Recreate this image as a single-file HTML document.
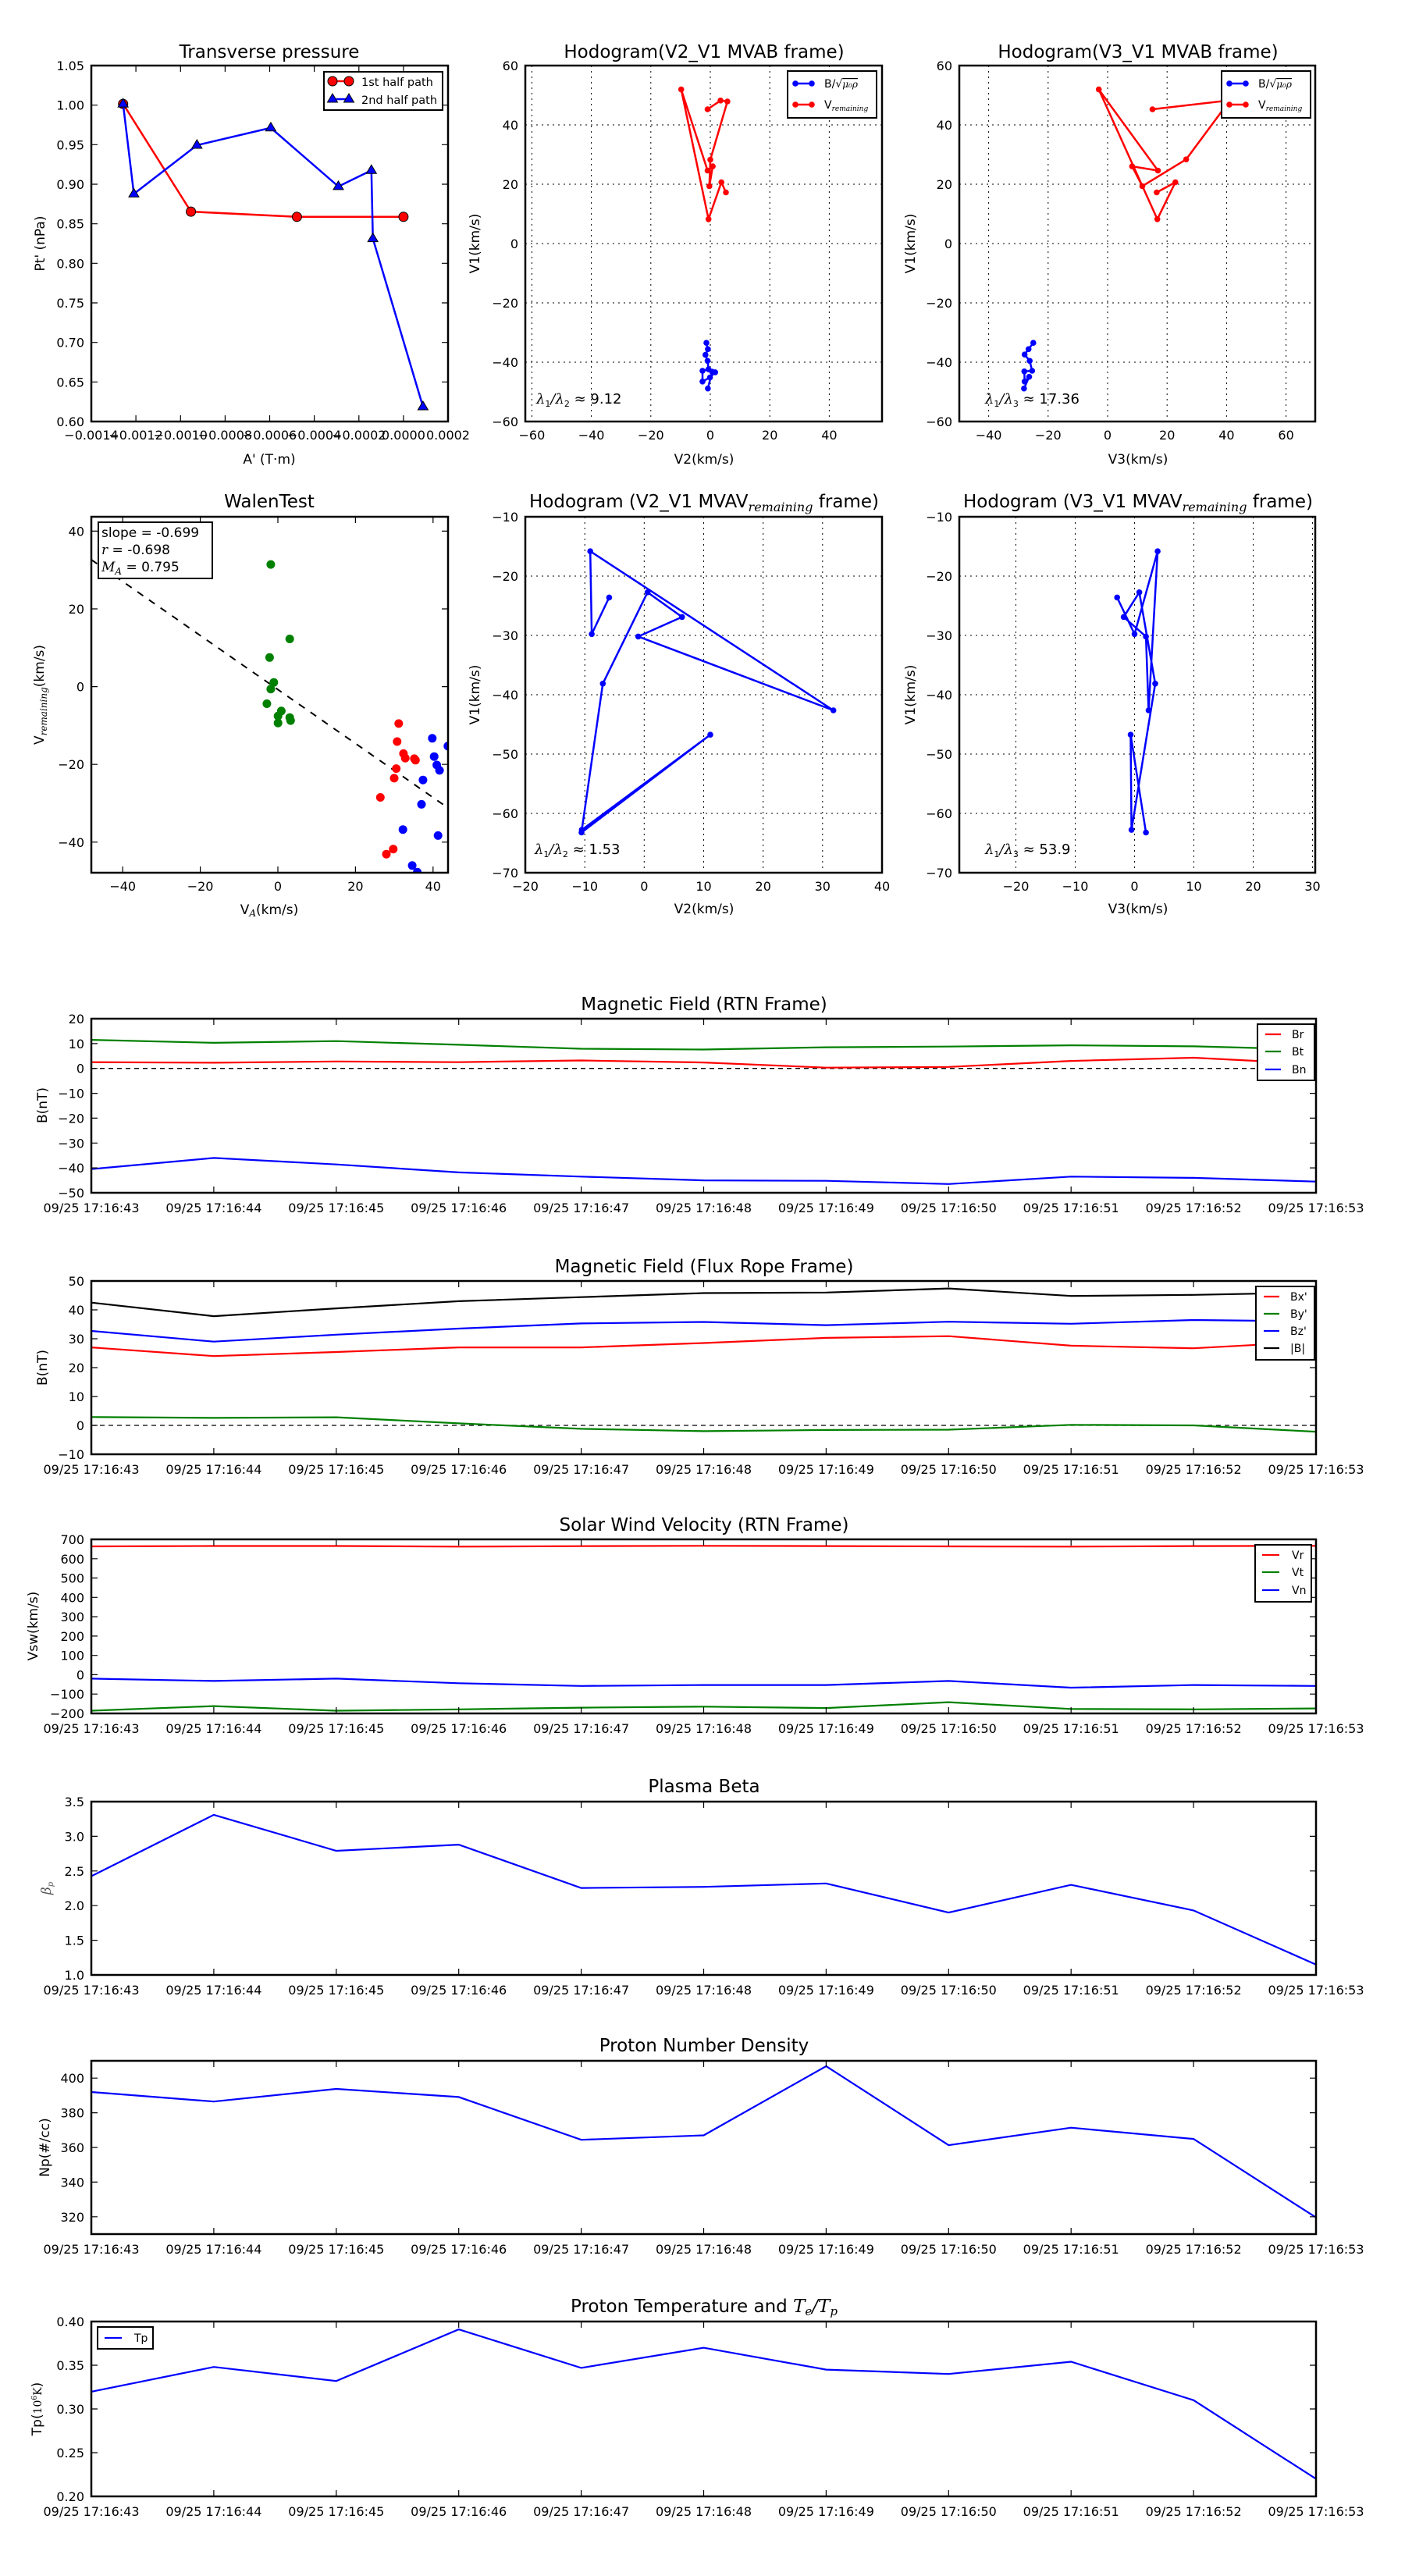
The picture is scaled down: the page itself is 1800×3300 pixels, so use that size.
<!DOCTYPE html>
<html><head><meta charset="utf-8"><style>
html,body{margin:0;padding:0;background:#fff;}
svg{display:block;font-family:"DejaVu Sans","Liberation Sans",sans-serif;}
.t{font-size:23px;text-anchor:middle;}
.tk{font-size:16px;}
.xl{font-size:16px;text-anchor:middle;}
.yl{font-size:16px;text-anchor:end;}
.al{font-size:17px;text-anchor:middle;}
.m{font-family:"DejaVu Serif","Liberation Serif",serif;font-style:italic;}
.fr{fill:none;stroke:#000;stroke-width:2.5;}
.tick{stroke:#000;stroke-width:1.2;fill:none;}
.grid{stroke:#000;stroke-width:1;stroke-dasharray:2,5;fill:none;}
</style></head><body>
<svg width="1800" height="3300" viewBox="0 0 1800 3300" xmlns="http://www.w3.org/2000/svg">
<defs>
<clipPath id="c1"><rect x="117" y="84" width="457" height="456"/></clipPath>
<clipPath id="c2"><rect x="673" y="84" width="457" height="456"/></clipPath>
<clipPath id="c3"><rect x="1229" y="84" width="456" height="456"/></clipPath>
<clipPath id="c4"><rect x="117" y="662" width="457" height="456"/></clipPath>
</defs>

<!-- ============ P1 Transverse pressure ============ -->
<text class="t" x="345" y="74">Transverse pressure</text>
<g clip-path="url(#c1)">
<polyline points="157.7,133.1 244.6,271.1 380.4,277.8 516.9,277.8" fill="none" stroke="#f00" stroke-width="2.5"/>
<g fill="#f00" stroke="#000" stroke-width="1">
<circle cx="157.7" cy="133.1" r="6"/><circle cx="244.6" cy="271.1" r="6"/><circle cx="380.4" cy="277.8" r="6"/><circle cx="516.9" cy="277.8" r="6"/>
</g>
<polyline points="157.7,133.1 171.5,248.4 252.3,186 346.9,163.8 433.5,238.9 475.8,218.2 477.7,305.6 541.9,521" fill="none" stroke="#00f" stroke-width="2.5"/>
<g fill="#00f" stroke="#000" stroke-width="1">
<path d="M157.7,126.1 l6.5,11 h-13z"/><path d="M171.5,241.4 l6.5,11 h-13z"/><path d="M252.3,179 l6.5,11 h-13z"/><path d="M346.9,156.8 l6.5,11 h-13z"/><path d="M433.5,231.9 l6.5,11 h-13z"/><path d="M475.8,211.2 l6.5,11 h-13z"/><path d="M477.7,298.6 l6.5,11 h-13z"/><path d="M541.9,514 l6.5,11 h-13z"/>
</g>
</g>
<rect class="fr" x="117" y="84" width="457" height="456"/>
<path class="tick" d="M174.1,540v-8M231.3,540v-8M288.4,540v-8M345.5,540v-8M402.6,540v-8M459.8,540v-8M516.9,540v-8M174.1,84v8M231.3,84v8M288.4,84v8M345.5,84v8M402.6,84v8M459.8,84v8M516.9,84v8M117,489.3h8M117,438.7h8M117,388h8M117,337.3h8M117,286.7h8M117,236h8M117,185.3h8M117,134.7h8M574,489.3h-8M574,438.7h-8M574,388h-8M574,337.3h-8M574,286.7h-8M574,236h-8M574,185.3h-8M574,134.7h-8"/>
<g class="xl">
<text x="117" y="563">−0.0014</text><text x="174.1" y="563">−0.0012</text><text x="231.3" y="563">−0.0010</text><text x="288.4" y="563">−0.0008</text><text x="345.5" y="563">−0.0006</text><text x="402.6" y="563">−0.0004</text><text x="459.8" y="563">−0.0002</text><text x="516.9" y="563">0.0000</text><text x="574" y="563">0.0002</text>
</g>
<g class="yl">
<text x="108" y="546">0.60</text><text x="108" y="495.3">0.65</text><text x="108" y="444.7">0.70</text><text x="108" y="394">0.75</text><text x="108" y="343.3">0.80</text><text x="108" y="292.7">0.85</text><text x="108" y="242">0.90</text><text x="108" y="191.3">0.95</text><text x="108" y="140.7">1.00</text><text x="108" y="90">1.05</text>
</g>
<text class="al" x="345" y="594">A' (T·m)</text>
<text class="al" transform="translate(57,312) rotate(-90)">Pt' (nPa)</text>
<rect x="415" y="92" width="152" height="49" fill="#fff" stroke="#000" stroke-width="2"/>
<line x1="426" y1="104" x2="447" y2="104" stroke="#f00" stroke-width="2.5"/>
<circle cx="426" cy="104" r="6" fill="#f00" stroke="#000"/><circle cx="447" cy="104" r="6" fill="#f00" stroke="#000"/>
<line x1="426" y1="127" x2="447" y2="127" stroke="#00f" stroke-width="2.5"/>
<path d="M426,120 l6.5,11 h-13z M447,120 l6.5,11 h-13z" fill="#00f" stroke="#000"/>
<text x="463" y="110" font-size="14.5">1st half path</text>
<text x="463" y="133" font-size="14.5">2nd half path</text>

<!-- ============ P2 Hodogram V2_V1 MVAB ============ -->
<text class="t" x="902" y="74">Hodogram(V2_V1 MVAB frame)</text>
<path class="grid" d="M681.4,84V540M757.6,84V540M833.8,84V540M910,84V540M986.2,84V540M1062.4,84V540M673,464H1130M673,388H1130M673,312H1130M673,236H1130M673,160H1130"/>
<g clip-path="url(#c2)">
<polyline points="906.5,140 923.1,128.8 931.9,130 910,204.6 908.8,238.5 913.1,213.1 906.5,218.5 872.7,114.6 907.7,280.8 924.2,233.5 930,246.5" fill="none" stroke="#f00" stroke-width="2.5"/>
<g fill="#f00"><circle cx="906.5" cy="140" r="3.8"/><circle cx="923.1" cy="128.8" r="3.8"/><circle cx="931.9" cy="130" r="3.8"/><circle cx="910" cy="204.6" r="3.8"/><circle cx="908.8" cy="238.5" r="3.8"/><circle cx="913.1" cy="213.1" r="3.8"/><circle cx="906.5" cy="218.5" r="3.8"/><circle cx="872.7" cy="114.6" r="3.8"/><circle cx="907.7" cy="280.8" r="3.8"/><circle cx="924.2" cy="233.5" r="3.8"/><circle cx="930" cy="246.5" r="3.8"/></g>
<polyline points="905,439.2 906.9,447.3 903.8,454.6 906.5,462.3 907.7,473.1 900,475 900,488.8 909.6,483.5 916.2,476.9 912.3,476.2 906.9,497.7" fill="none" stroke="#00f" stroke-width="2.5"/>
<g fill="#00f"><circle cx="905" cy="439.2" r="3.8"/><circle cx="906.9" cy="447.3" r="3.8"/><circle cx="903.8" cy="454.6" r="3.8"/><circle cx="906.5" cy="462.3" r="3.8"/><circle cx="907.7" cy="473.1" r="3.8"/><circle cx="900" cy="475" r="3.8"/><circle cx="900" cy="488.8" r="3.8"/><circle cx="909.6" cy="483.5" r="3.8"/><circle cx="916.2" cy="476.9" r="3.8"/><circle cx="912.3" cy="476.2" r="3.8"/><circle cx="906.9" cy="497.7" r="3.8"/></g>
</g>
<rect class="fr" x="673" y="84" width="457" height="456"/>
<g class="xl"><text x="681.4" y="563">−60</text><text x="757.6" y="563">−40</text><text x="833.8" y="563">−20</text><text x="910" y="563">0</text><text x="986.2" y="563">20</text><text x="1062.4" y="563">40</text></g>
<g class="yl"><text x="664" y="546">−60</text><text x="664" y="470">−40</text><text x="664" y="394">−20</text><text x="664" y="318">0</text><text x="664" y="242">20</text><text x="664" y="166">40</text><text x="664" y="90">60</text></g>
<text class="al" x="902" y="594">V2(km/s)</text>
<text class="al" transform="translate(614,312) rotate(-90)">V1(km/s)</text>
<text x="687" y="517" font-size="18"><tspan class="m">λ</tspan><tspan font-size="11" dy="4">1</tspan><tspan class="m" dy="-4">/λ</tspan><tspan font-size="11" dy="4">2</tspan><tspan dy="-4"> ≈ 9.12</tspan></text>
<rect x="1009" y="91" width="114" height="60" fill="#fff" stroke="#000" stroke-width="2"/>
<line x1="1019" y1="107" x2="1040" y2="107" stroke="#00f" stroke-width="2.5"/><circle cx="1019" cy="107" r="3.8" fill="#00f"/><circle cx="1040" cy="107" r="3.8" fill="#00f"/>
<line x1="1019" y1="134" x2="1040" y2="134" stroke="#f00" stroke-width="2.5"/><circle cx="1019" cy="134" r="3.8" fill="#f00"/><circle cx="1040" cy="134" r="3.8" fill="#f00"/>
<text x="1056" y="112" font-size="14">B/√<tspan class="m" font-size="12" text-decoration="overline">μ₀ρ</tspan></text>
<text x="1056" y="139" font-size="14">V<tspan class="m" font-size="9" dy="3">remaining</tspan></text>

<!-- ============ P3 Hodogram V3_V1 MVAB ============ -->
<text class="t" x="1458" y="74">Hodogram(V3_V1 MVAB frame)</text>
<path class="grid" d="M1266.6,84V540M1342.8,84V540M1419,84V540M1495.2,84V540M1571.4,84V540M1647.6,84V540M1229,464H1685M1229,388H1685M1229,312H1685M1229,236H1685M1229,160H1685"/>
<g clip-path="url(#c3)">
<polyline points="1476.5,140 1573.1,128.8 1574.6,130 1519.6,204.2 1463.5,238.5 1450.4,213.1 1483.5,218.5 1407.7,114.6 1482.7,280.8 1505.8,233.5 1481.9,246.5" fill="none" stroke="#f00" stroke-width="2.5"/>
<g fill="#f00"><circle cx="1476.5" cy="140" r="3.8"/><circle cx="1519.6" cy="204.2" r="3.8"/><circle cx="1463.5" cy="238.5" r="3.8"/><circle cx="1450.4" cy="213.1" r="3.8"/><circle cx="1483.5" cy="218.5" r="3.8"/><circle cx="1407.7" cy="114.6" r="3.8"/><circle cx="1482.7" cy="280.8" r="3.8"/><circle cx="1505.8" cy="233.5" r="3.8"/><circle cx="1481.9" cy="246.5" r="3.8"/></g>
<polyline points="1323.8,439.2 1317.7,447.3 1312.7,454.2 1319.2,462.3 1322.3,475 1312.3,475.8 1312.7,488.8 1318.5,482.7 1311.9,497.7" fill="none" stroke="#00f" stroke-width="2.5"/>
<g fill="#00f"><circle cx="1323.8" cy="439.2" r="3.8"/><circle cx="1317.7" cy="447.3" r="3.8"/><circle cx="1312.7" cy="454.2" r="3.8"/><circle cx="1319.2" cy="462.3" r="3.8"/><circle cx="1322.3" cy="475" r="3.8"/><circle cx="1312.3" cy="475.8" r="3.8"/><circle cx="1312.7" cy="488.8" r="3.8"/><circle cx="1318.5" cy="482.7" r="3.8"/><circle cx="1311.9" cy="497.7" r="3.8"/></g>
</g>
<rect class="fr" x="1229" y="84" width="456" height="456"/>
<g class="xl"><text x="1266.6" y="563">−40</text><text x="1342.8" y="563">−20</text><text x="1419" y="563">0</text><text x="1495.2" y="563">20</text><text x="1571.4" y="563">40</text><text x="1647.6" y="563">60</text></g>
<g class="yl"><text x="1220" y="546">−60</text><text x="1220" y="470">−40</text><text x="1220" y="394">−20</text><text x="1220" y="318">0</text><text x="1220" y="242">20</text><text x="1220" y="166">40</text><text x="1220" y="90">60</text></g>
<text class="al" x="1458" y="594">V3(km/s)</text>
<text class="al" transform="translate(1172,312) rotate(-90)">V1(km/s)</text>
<text x="1262" y="517" font-size="18"><tspan class="m">λ</tspan><tspan font-size="11" dy="4">1</tspan><tspan class="m" dy="-4">/λ</tspan><tspan font-size="11" dy="4">3</tspan><tspan dy="-4"> ≈ 17.36</tspan></text>
<rect x="1565" y="91" width="114" height="60" fill="#fff" stroke="#000" stroke-width="2"/>
<line x1="1575" y1="107" x2="1596" y2="107" stroke="#00f" stroke-width="2.5"/><circle cx="1575" cy="107" r="3.8" fill="#00f"/><circle cx="1596" cy="107" r="3.8" fill="#00f"/>
<line x1="1575" y1="134" x2="1596" y2="134" stroke="#f00" stroke-width="2.5"/><circle cx="1575" cy="134" r="3.8" fill="#f00"/><circle cx="1596" cy="134" r="3.8" fill="#f00"/>
<text x="1612" y="112" font-size="14">B/√<tspan class="m" font-size="12" text-decoration="overline">μ₀ρ</tspan></text>
<text x="1612" y="139" font-size="14">V<tspan class="m" font-size="9" dy="3">remaining</tspan></text>

<!-- ============ P4 WalenTest ============ -->
<text class="t" x="345" y="650">WalenTest</text>
<g clip-path="url(#c4)">
<line x1="117" y1="717" x2="574" y2="1035" stroke="#000" stroke-width="2" stroke-dasharray="9,9"/>
<g fill="#008000"><circle cx="346.9" cy="723.1" r="5.5"/><circle cx="371.2" cy="818.5" r="5.5"/><circle cx="345.4" cy="842.3" r="5.5"/><circle cx="350.8" cy="874.2" r="5.5"/><circle cx="346.9" cy="882.7" r="5.5"/><circle cx="341.9" cy="901.5" r="5.5"/><circle cx="360.4" cy="910.8" r="5.5"/><circle cx="356.2" cy="917.3" r="5.5"/><circle cx="356.2" cy="926.2" r="5.5"/><circle cx="371.2" cy="919.2" r="5.5"/><circle cx="372.3" cy="923.1" r="5.5"/></g>
<g fill="#f00"><circle cx="510.8" cy="926.9" r="5.5"/><circle cx="508.8" cy="950" r="5.5"/><circle cx="516.9" cy="965.4" r="5.5"/><circle cx="519.2" cy="971.2" r="5.5"/><circle cx="530.8" cy="971.9" r="5.5"/><circle cx="532.3" cy="973.8" r="5.5"/><circle cx="507.7" cy="984.6" r="5.5"/><circle cx="505" cy="996.9" r="5.5"/><circle cx="487.3" cy="1021.5" r="5.5"/><circle cx="503.8" cy="1087.7" r="5.5"/><circle cx="495" cy="1094.2" r="5.5"/></g>
<g fill="#00f"><circle cx="553.8" cy="945.8" r="5.5"/><circle cx="556.2" cy="969.2" r="5.5"/><circle cx="573.8" cy="955.8" r="5.5"/><circle cx="559.6" cy="980" r="5.5"/><circle cx="563.1" cy="986.9" r="5.5"/><circle cx="541.9" cy="999.2" r="5.5"/><circle cx="540" cy="1030.4" r="5.5"/><circle cx="516.2" cy="1062.7" r="5.5"/><circle cx="561.2" cy="1070.4" r="5.5"/><circle cx="528.1" cy="1108.8" r="5.5"/><circle cx="534.6" cy="1117.3" r="5.5"/></g>
</g>
<rect class="fr" x="117" y="662" width="457" height="456"/>
<path class="tick" d="M157.2,1118v-8M256.6,1118v-8M356,1118v-8M455.4,1118v-8M554.8,1118v-8M157.2,662v8M256.6,662v8M356,662v8M455.4,662v8M554.8,662v8M117,680.4h8M117,780h8M117,879.6h8M117,979.2h8M117,1078.8h8M574,680.4h-8M574,780h-8M574,879.6h-8M574,979.2h-8M574,1078.8h-8"/>
<g class="xl"><text x="157.2" y="1141">−40</text><text x="256.6" y="1141">−20</text><text x="356" y="1141">0</text><text x="455.4" y="1141">20</text><text x="554.8" y="1141">40</text></g>
<g class="yl"><text x="108" y="686.4">40</text><text x="108" y="786">20</text><text x="108" y="885.6">0</text><text x="108" y="985.2">−20</text><text x="108" y="1084.8">−40</text></g>
<text class="al" x="345" y="1171">V<tspan class="m" font-size="12" dy="3">A</tspan><tspan dy="-3">(km/s)</tspan></text>
<text class="al" transform="translate(56,890) rotate(-90)">V<tspan class="m" font-size="12" dy="4">remaining</tspan><tspan dy="-4">(km/s)</tspan></text>
<rect x="126" y="669" width="146" height="72" fill="#fff" stroke="#000" stroke-width="2"/>
<text x="130" y="688" font-size="17">slope = -0.699</text>
<text x="130" y="710" font-size="17"><tspan class="m">r</tspan> = -0.698</text>
<text x="130" y="732" font-size="17"><tspan class="m">M</tspan><tspan class="m" font-size="12" dy="4">A</tspan><tspan dy="-4"> = 0.795</tspan></text>

<!-- ============ P5 Hodogram MVAV V2 ============ -->
<text class="t" x="902" y="650">Hodogram (V2_V1 MVAV<tspan class="m" font-size="16" dy="5">remaining</tspan><tspan dy="-5"> frame)</tspan></text>
<path class="grid" d="M749.2,662V1118M825.3,662V1118M901.5,662V1118M977.7,662V1118M1053.8,662V1118M673,738H1130M673,814H1130M673,890H1130M673,966H1130M673,1042H1130"/>
<polyline points="780.4,765.4 758.1,812.3 756.2,706.2 1067.7,910 817.7,815.4 873.8,790.4 829.6,758.8 772.3,875.8 745.4,1063.1 910,941.2 745,1066.5" fill="none" stroke="#00f" stroke-width="2.5"/>
<g fill="#00f"><circle cx="780.4" cy="765.4" r="3.8"/><circle cx="758.1" cy="812.3" r="3.8"/><circle cx="756.2" cy="706.2" r="3.8"/><circle cx="1067.7" cy="910" r="3.8"/><circle cx="817.7" cy="815.4" r="3.8"/><circle cx="873.8" cy="790.4" r="3.8"/><circle cx="829.6" cy="758.8" r="3.8"/><circle cx="772.3" cy="875.8" r="3.8"/><circle cx="745.4" cy="1063.1" r="3.8"/><circle cx="910" cy="941.2" r="3.8"/><circle cx="745" cy="1066.5" r="3.8"/></g>
<rect class="fr" x="673" y="662" width="457" height="456"/>
<g class="xl"><text x="673" y="1141">−20</text><text x="749.2" y="1141">−10</text><text x="825.3" y="1141">0</text><text x="901.5" y="1141">10</text><text x="977.7" y="1141">20</text><text x="1053.8" y="1141">30</text><text x="1130" y="1141">40</text></g>
<g class="yl"><text x="664" y="668">−10</text><text x="664" y="744">−20</text><text x="664" y="820">−30</text><text x="664" y="896">−40</text><text x="664" y="972">−50</text><text x="664" y="1048">−60</text><text x="664" y="1124">−70</text></g>
<text class="al" x="902" y="1170">V2(km/s)</text>
<text class="al" transform="translate(614,890) rotate(-90)">V1(km/s)</text>
<text x="685" y="1094" font-size="18"><tspan class="m">λ</tspan><tspan font-size="11" dy="4">1</tspan><tspan class="m" dy="-4">/λ</tspan><tspan font-size="11" dy="4">2</tspan><tspan dy="-4"> ≈ 1.53</tspan></text>

<!-- ============ P6 Hodogram MVAV V3 ============ -->
<text class="t" x="1458" y="650">Hodogram (V3_V1 MVAV<tspan class="m" font-size="16" dy="5">remaining</tspan><tspan dy="-5"> frame)</tspan></text>
<path class="grid" d="M1301.5,662V1118M1377.5,662V1118M1453.5,662V1118M1529.5,662V1118M1605.5,662V1118M1681.5,662V1118M1229,738H1685M1229,814H1685M1229,890H1685M1229,966H1685M1229,1042H1685"/>
<polyline points="1431.2,765.4 1453.5,812.3 1483.1,706.2 1471.5,910 1468.1,815.4 1439.6,790.4 1459.6,758.8 1480,875.8 1449.6,1063.1 1448.5,941.2 1468.1,1066.5" fill="none" stroke="#00f" stroke-width="2.5"/>
<g fill="#00f"><circle cx="1431.2" cy="765.4" r="3.8"/><circle cx="1453.5" cy="812.3" r="3.8"/><circle cx="1483.1" cy="706.2" r="3.8"/><circle cx="1471.5" cy="910" r="3.8"/><circle cx="1468.1" cy="815.4" r="3.8"/><circle cx="1439.6" cy="790.4" r="3.8"/><circle cx="1459.6" cy="758.8" r="3.8"/><circle cx="1480" cy="875.8" r="3.8"/><circle cx="1449.6" cy="1063.1" r="3.8"/><circle cx="1448.5" cy="941.2" r="3.8"/><circle cx="1468.1" cy="1066.5" r="3.8"/></g>
<rect class="fr" x="1229" y="662" width="456" height="456"/>
<g class="xl"><text x="1301.5" y="1141">−20</text><text x="1377.5" y="1141">−10</text><text x="1453.5" y="1141">0</text><text x="1529.5" y="1141">10</text><text x="1605.5" y="1141">20</text><text x="1681.5" y="1141">30</text></g>
<g class="yl"><text x="1220" y="668">−10</text><text x="1220" y="744">−20</text><text x="1220" y="820">−30</text><text x="1220" y="896">−40</text><text x="1220" y="972">−50</text><text x="1220" y="1048">−60</text><text x="1220" y="1124">−70</text></g>
<text class="al" x="1458" y="1170">V3(km/s)</text>
<text class="al" transform="translate(1172,890) rotate(-90)">V1(km/s)</text>
<text x="1262" y="1094" font-size="18"><tspan class="m">λ</tspan><tspan font-size="11" dy="4">1</tspan><tspan class="m" dy="-4">/λ</tspan><tspan font-size="11" dy="4">3</tspan><tspan dy="-4"> ≈ 53.9</tspan></text>

<!-- ============ Time series common x ticks ============ -->
<defs>
<g id="xt">
<path class="tick" d="M273.9,0v-8M430.8,0v-8M587.7,0v-8M744.6,0v-8M901.5,0v-8M1058.4,0v-8M1215.3,0v-8M1372.2,0v-8M1529.1,0v-8"/>
<g class="xl">
<text x="117" y="25">09/25 17:16:43</text><text x="273.9" y="25">09/25 17:16:44</text><text x="430.8" y="25">09/25 17:16:45</text><text x="587.7" y="25">09/25 17:16:46</text><text x="744.6" y="25">09/25 17:16:47</text><text x="901.5" y="25">09/25 17:16:48</text><text x="1058.4" y="25">09/25 17:16:49</text><text x="1215.3" y="25">09/25 17:16:50</text><text x="1372.2" y="25">09/25 17:16:51</text><text x="1529.1" y="25">09/25 17:16:52</text><text x="1686" y="25">09/25 17:16:53</text>
</g>
</g>
<path id="xtt" class="tick" d="M273.9,0v8M430.8,0v8M587.7,0v8M744.6,0v8M901.5,0v8M1058.4,0v8M1215.3,0v8M1372.2,0v8M1529.1,0v8"/>
</defs>

<!-- MF RTN -->
<text class="t" x="902" y="1294">Magnetic Field (RTN Frame)</text>
<line x1="117" y1="1368.7" x2="1686" y2="1368.7" stroke="#000" stroke-width="1.3" stroke-dasharray="6,5"/>
<polyline fill="none" stroke="#f00" stroke-width="2.2" points="117,1360.7 273.9,1361.4 430.8,1359.8 587.7,1360.7 744.6,1358.5 901.5,1361.1 1058.4,1367.7 1215.3,1366.8 1372.2,1359.1 1529.1,1355 1686,1363"/>
<polyline fill="none" stroke="#008000" stroke-width="2.2" points="117,1332.1 273.9,1335.9 430.8,1333.7 587.7,1338.4 744.6,1343.5 901.5,1344.5 1058.4,1341.6 1215.3,1340.7 1372.2,1339.1 1529.1,1340.4 1686,1344.5"/>
<polyline fill="none" stroke="#00f" stroke-width="2.2" points="117,1497.7 273.9,1483.4 430.8,1491.7 587.7,1501.9 744.6,1507.3 901.5,1512.1 1058.4,1512.7 1215.3,1516.8 1372.2,1507.3 1529.1,1508.9 1686,1513.7"/>
<rect class="fr" x="117" y="1305" width="1569" height="223"/>
<use href="#xt" transform="translate(0,1528)"/><use href="#xtt" transform="translate(0,1305)"/>
<path class="tick" d="M117,1496.1h8M117,1464.3h8M117,1432.4h8M117,1400.6h8M117,1368.7h8M117,1336.9h8M1686,1496.1h-8M1686,1464.3h-8M1686,1432.4h-8M1686,1400.6h-8M1686,1368.7h-8M1686,1336.9h-8"/>
<g class="yl"><text x="108" y="1534">−50</text><text x="108" y="1502.1">−40</text><text x="108" y="1470.3">−30</text><text x="108" y="1438.4">−20</text><text x="108" y="1406.6">−10</text><text x="108" y="1374.7">0</text><text x="108" y="1342.9">10</text><text x="108" y="1311">20</text></g>
<text class="al" font-size="16" transform="translate(60,1416) rotate(-90)">B(nT)</text>
<rect x="1611" y="1312" width="73" height="72" fill="#fff" stroke="#000" stroke-width="2"/>
<line x1="1621" y1="1325" x2="1641" y2="1325" stroke="#f00" stroke-width="2.2"/><text x="1655" y="1330" font-size="14">Br</text>
<line x1="1621" y1="1347" x2="1641" y2="1347" stroke="#008000" stroke-width="2.2"/><text x="1655" y="1352" font-size="14">Bt</text>
<line x1="1621" y1="1370" x2="1641" y2="1370" stroke="#00f" stroke-width="2.2"/><text x="1655" y="1375" font-size="14">Bn</text>

<!-- MF Flux rope -->
<text class="t" x="902" y="1630">Magnetic Field (Flux Rope Frame)</text>
<line x1="117" y1="1826" x2="1686" y2="1826" stroke="#000" stroke-width="1.3" stroke-dasharray="6,5"/>
<polyline fill="none" stroke="#f00" stroke-width="2.2" points="117,1726.1 273.9,1737.2 430.8,1732 587.7,1726.1 744.6,1726.1 901.5,1720.5 1058.4,1713.9 1215.3,1711.7 1372.2,1723.9 1529.1,1727.2 1686,1718.7"/>
<polyline fill="none" stroke="#008000" stroke-width="2.2" points="117,1815.3 273.9,1816.4 430.8,1815.6 587.7,1823.4 744.6,1830.4 901.5,1833.4 1058.4,1831.9 1215.3,1831.5 1372.2,1825.3 1529.1,1826 1686,1834.1"/>
<polyline fill="none" stroke="#00f" stroke-width="2.2" points="117,1705 273.9,1718.7 430.8,1709.8 587.7,1702 744.6,1695.4 901.5,1693.5 1058.4,1697.6 1215.3,1693.2 1372.2,1695.8 1529.1,1691 1686,1692.8"/>
<polyline fill="none" stroke="#000" stroke-width="2.2" points="117,1668.7 273.9,1686.1 430.8,1676.1 587.7,1666.9 744.6,1661.7 901.5,1656.5 1058.4,1655.8 1215.3,1650.6 1372.2,1660.2 1529.1,1658.8 1686,1655.8"/>
<rect class="fr" x="117" y="1641" width="1569" height="222"/>
<use href="#xt" transform="translate(0,1863)"/><use href="#xtt" transform="translate(0,1641)"/>
<path class="tick" d="M117,1826h8M117,1789h8M117,1752h8M117,1715h8M117,1678h8M1686,1826h-8M1686,1789h-8M1686,1752h-8M1686,1715h-8M1686,1678h-8"/>
<g class="yl"><text x="108" y="1869">−10</text><text x="108" y="1832">0</text><text x="108" y="1795">10</text><text x="108" y="1758">20</text><text x="108" y="1721">30</text><text x="108" y="1684">40</text><text x="108" y="1647">50</text></g>
<text class="al" font-size="16" transform="translate(60,1752) rotate(-90)">B(nT)</text>
<rect x="1609" y="1648" width="75" height="94" fill="#fff" stroke="#000" stroke-width="2"/>
<line x1="1619" y1="1661" x2="1639" y2="1661" stroke="#f00" stroke-width="2.2"/><text x="1653" y="1666" font-size="14">Bx'</text>
<line x1="1619" y1="1683" x2="1639" y2="1683" stroke="#008000" stroke-width="2.2"/><text x="1653" y="1688" font-size="14">By'</text>
<line x1="1619" y1="1705" x2="1639" y2="1705" stroke="#00f" stroke-width="2.2"/><text x="1653" y="1710" font-size="14">Bz'</text>
<line x1="1619" y1="1727" x2="1639" y2="1727" stroke="#000" stroke-width="2.2"/><text x="1653" y="1732" font-size="14">|B|</text>

<!-- Solar wind -->
<text class="t" x="902" y="1961">Solar Wind Velocity (RTN Frame)</text>
<polyline fill="none" stroke="#f00" stroke-width="2.2" points="117,1981 273.9,1980.5 430.8,1980.5 587.7,1981.3 744.6,1980.7 901.5,1980.3 1058.4,1980.6 1215.3,1981 1372.2,1981.3 1529.1,1980.6 1686,1980.3"/>
<polyline fill="none" stroke="#008000" stroke-width="2.2" points="117,2191.5 273.9,2185.6 430.8,2191.5 587.7,2189.8 744.6,2187.6 901.5,2186.3 1058.4,2188.1 1215.3,2180.6 1372.2,2189.3 1529.1,2189.8 1686,2188.6"/>
<polyline fill="none" stroke="#00f" stroke-width="2.2" points="117,2150.4 273.9,2153.4 430.8,2150.4 587.7,2156.3 744.6,2159.8 901.5,2158.6 1058.4,2158.6 1215.3,2153.4 1372.2,2162 1529.1,2158.6 1686,2159.8"/>
<rect class="fr" x="117" y="1972" width="1569" height="223"/>
<use href="#xt" transform="translate(0,2195)"/><use href="#xtt" transform="translate(0,1972)"/>
<path class="tick" d="M117,2170.2h8M117,2145.4h8M117,2120.7h8M117,2095.9h8M117,2071.1h8M117,2046.3h8M117,2021.5h8M117,1996.8h8M1686,2170.2h-8M1686,2145.4h-8M1686,2120.7h-8M1686,2095.9h-8M1686,2071.1h-8M1686,2046.3h-8M1686,2021.5h-8M1686,1996.8h-8"/>
<g class="yl"><text x="108" y="2201">−200</text><text x="108" y="2176.2">−100</text><text x="108" y="2151.4">0</text><text x="108" y="2126.7">100</text><text x="108" y="2101.9">200</text><text x="108" y="2077.1">300</text><text x="108" y="2052.3">400</text><text x="108" y="2027.5">500</text><text x="108" y="2002.8">600</text><text x="108" y="1978">700</text></g>
<text class="al" font-size="16" transform="translate(48,2083) rotate(-90)">Vsw(km/s)</text>
<rect x="1608" y="1979" width="72" height="73" fill="#fff" stroke="#000" stroke-width="2"/>
<line x1="1617" y1="1992" x2="1639" y2="1992" stroke="#f00" stroke-width="2"/><text x="1655" y="1997" font-size="14">Vr</text>
<line x1="1617" y1="2014" x2="1639" y2="2014" stroke="#008000" stroke-width="2"/><text x="1655" y="2019" font-size="14">Vt</text>
<line x1="1617" y1="2037" x2="1639" y2="2037" stroke="#00f" stroke-width="2"/><text x="1655" y="2042" font-size="14">Vn</text>

<!-- Plasma beta -->
<text class="t" x="902" y="2296">Plasma Beta</text>
<polyline fill="none" stroke="#00f" stroke-width="2.2" points="117,2403.5 273.9,2324.9 430.8,2371 587.7,2363.1 744.6,2418.6 901.5,2417.2 1058.4,2412.8 1215.3,2450.1 1372.2,2414.6 1529.1,2447.4 1686,2516.7"/>
<rect class="fr" x="117" y="2308" width="1569" height="222"/>
<use href="#xt" transform="translate(0,2530)"/><use href="#xtt" transform="translate(0,2308)"/>
<path class="tick" d="M117,2485.6h8M117,2441.2h8M117,2396.8h8M117,2352.4h8M1686,2485.6h-8M1686,2441.2h-8M1686,2396.8h-8M1686,2352.4h-8"/>
<g class="yl"><text x="108" y="2536">1.0</text><text x="108" y="2491.6">1.5</text><text x="108" y="2447.2">2.0</text><text x="108" y="2402.8">2.5</text><text x="108" y="2358.4">3.0</text><text x="108" y="2314">3.5</text></g>
<text class="al m" font-size="15" fill="#555" transform="translate(65,2419) rotate(-90)">β<tspan font-size="10" dy="3">p</tspan></text>

<!-- Density -->
<text class="t" x="902" y="2628">Proton Number Density</text>
<polyline fill="none" stroke="#00f" stroke-width="2.2" points="117,2680 273.9,2692.2 430.8,2676 587.7,2686.4 744.6,2741.2 901.5,2735.5 1058.4,2646.9 1215.3,2748.1 1372.2,2725.7 1529.1,2740.1 1686,2840.7"/>
<rect class="fr" x="117" y="2640" width="1569" height="222"/>
<use href="#xt" transform="translate(0,2862)"/><use href="#xtt" transform="translate(0,2640)"/>
<path class="tick" d="M117,2839.8h8M117,2795.4h8M117,2751h8M117,2706.6h8M117,2662.2h8M1686,2839.8h-8M1686,2795.4h-8M1686,2751h-8M1686,2706.6h-8M1686,2662.2h-8"/>
<g class="yl"><text x="108" y="2845.8">320</text><text x="108" y="2801.4">340</text><text x="108" y="2757">360</text><text x="108" y="2712.6">380</text><text x="108" y="2668.2">400</text></g>
<text class="al" font-size="16" transform="translate(63,2751) rotate(-90)">Np(#/cc)</text>

<!-- Temperature -->
<text class="t" x="902" y="2962">Proton Temperature and <tspan class="m">T</tspan><tspan class="m" font-size="15" dy="4">e</tspan><tspan class="m" dy="-4">/T</tspan><tspan class="m" font-size="15" dy="4">p</tspan></text>
<polyline fill="none" stroke="#00f" stroke-width="2.2" points="117,3063.9 273.9,3032.2 430.8,3050.2 587.7,2984.1 744.6,3033.4 901.5,3007.6 1058.4,3035.6 1215.3,3041.2 1372.2,3025.5 1529.1,3074.8 1686,3175.6"/>
<rect class="fr" x="117" y="2974" width="1569" height="224"/>
<use href="#xt" transform="translate(0,3198)"/><use href="#xtt" transform="translate(0,2974)"/>
<path class="tick" d="M117,3142h8M117,3086h8M117,3030h8M1686,3142h-8M1686,3086h-8M1686,3030h-8"/>
<g class="yl"><text x="108" y="3204">0.20</text><text x="108" y="3148">0.25</text><text x="108" y="3092">0.30</text><text x="108" y="3036">0.35</text><text x="108" y="2980">0.40</text></g>
<text class="al" font-size="16" transform="translate(53,3086) rotate(-90)">Tp(<tspan font-family="DejaVu Serif" font-size="14">10<tspan font-size="9" dy="-6">6</tspan><tspan dy="6">K</tspan></tspan>)</text>
<rect x="125" y="2981" width="71" height="28" fill="#fff" stroke="#000" stroke-width="2"/>
<line x1="134" y1="2995" x2="156" y2="2995" stroke="#00f" stroke-width="2.2"/><text x="172" y="3000" font-size="14">Tp</text>
</svg>
</body></html>
